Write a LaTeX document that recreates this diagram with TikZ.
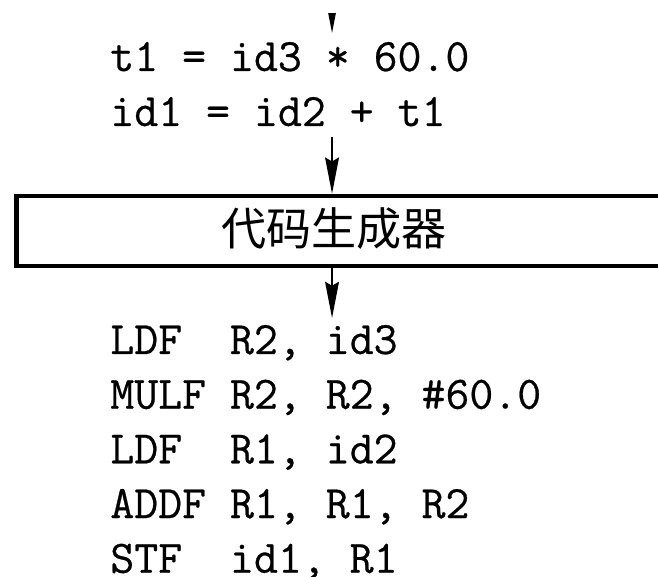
\documentclass[tikz,border=0pt]{standalone}
\usepackage{fontspec}
\setmonofont[FakeBold=0.5]{Latin Modern Mono}
\newfontfamily\cjk{Noto Sans CJK SC}
\usetikzlibrary{arrows.meta}
\begin{document}
\begin{tikzpicture}[
  code/.style={anchor=base west, inner sep=0pt, font=\fontsize{20.1}{24}\selectfont\ttfamily},
  flow/.style={-{Stealth[length=0.55cm, width=0.21cm, inset=0.06cm]}, line width=0.9pt},
  frame/.style={draw, line width=2pt, inner sep=0pt}]
\useasboundingbox (0,0) rectangle (10,8.754);
\clip (0,0) rectangle (10,8.754);

\node [code] (ir1) at (1.67,7.675) {t1 = id3 * 60.0};
\node [code] (ir2) at (1.67,6.839) {id1 = id2 + t1};

\node [frame, anchor=west, minimum width=10.5cm, minimum height=1.064cm] (box) at (0.213,5.243) {};
\node (gen) at (5.076,5.274) [inner sep=0pt, font=\cjk\fontsize{19.5}{23}\selectfont] {代码生成器};

\node [code] (tc1) at (1.67,3.374) {LDF\ \ R2, id3};
\node [code] (tc2) at (1.67,2.543) {MULF R2, R2, \#60.0};
\node [code] (tc3) at (1.67,1.712) {LDF\ \ R1, id2};
\node [code] (tc4) at (1.67,0.881) {ADDF R1, R1, R2};
\node [code] (tc5) at (1.67,0.050) {STF\ \ id1, R1};

\coordinate (in) at (5.046,9.3);
\coordinate (intip) at (5.046,8.252);
\coordinate (irout) at (5.046,6.672);
\coordinate (boxin) at (5.046,5.81);
\coordinate (boxout) at (5.046,4.711);
\coordinate (tcin) at (5.046,3.921);

% only the tip of the incoming arrow shows
\begin{scope}
\clip (0,0) rectangle (10,8.556);
\draw [flow] (in) -- (intip);
\end{scope}
\draw [flow] (irout) -- (boxin);
\draw [flow] (boxout) -- (tcin);
\end{tikzpicture}
\end{document}
